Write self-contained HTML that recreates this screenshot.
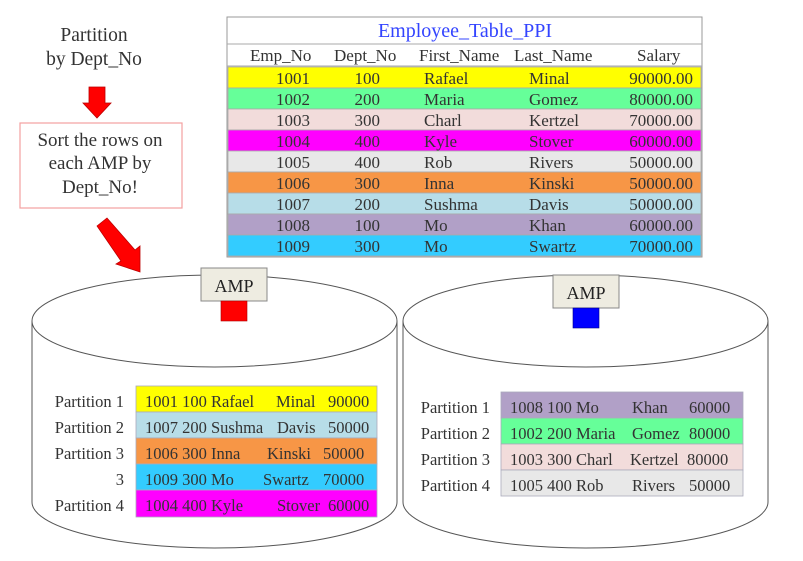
<!DOCTYPE html>
<html><head><meta charset="utf-8"><style>
html,body{margin:0;padding:0;background:#fff;}
svg{display:block;font-family:"Liberation Serif",serif;}
</style></head><body>
<svg width="803" height="561" viewBox="0 0 803 561" xmlns="http://www.w3.org/2000/svg">
<g font-size="19.5" fill="#333" text-anchor="middle">
<text x="94" y="41">Partition</text>
<text x="94" y="65">by Dept_No</text>
</g>
<g font-size="19" fill="#333" text-anchor="middle">
<text x="100" y="146">Sort the rows on</text>
<text x="100" y="169">each AMP by</text>
<text x="100" y="193">Dept_No!</text>
</g>
<polygon points="89,87 105,87 105,103 111,103 97,118 83,103 89,103" fill="#f00" stroke="#b00" stroke-width="0.8"/>
<rect x="20" y="123" width="162" height="85" fill="none" stroke="#f4a0a0" stroke-width="1.2"/>
<polygon points="97,226 107,218 135,250 140,246 140,272 116,264 121,261" fill="#f00" stroke="#b00" stroke-width="0.8"/>

<rect x="227" y="17" width="475" height="240" fill="#fff" stroke="#999" stroke-width="1"/>
<line x1="227" y1="44" x2="702" y2="44" stroke="#aaa"/>
<line x1="227" y1="66" x2="702" y2="66" stroke="#aaa"/>
<text x="465" y="37" font-size="20" fill="#3344ff" text-anchor="middle">Employee_Table_PPI</text>
<g font-size="17" fill="#333">
<text x="250" y="61">Emp_No</text>
<text x="334" y="61">Dept_No</text>
<text x="419" y="61">First_Name</text>
<text x="514" y="61">Last_Name</text>
<text x="637" y="61">Salary</text>
</g>
<g stroke="#aaa" stroke-width="0.8">
<rect x="228" y="67" width="473" height="21" fill="#ffff00"/>
<rect x="228" y="88" width="473" height="21" fill="#66ff99"/>
<rect x="228" y="109" width="473" height="21" fill="#f2dcdb"/>
<rect x="228" y="130" width="473" height="21" fill="#ff00ff"/>
<rect x="228" y="151" width="473" height="21" fill="#e8e8e8"/>
<rect x="228" y="172" width="473" height="21" fill="#f79646"/>
<rect x="228" y="193" width="473" height="21" fill="#b7dde8"/>
<rect x="228" y="214" width="473" height="21" fill="#b1a0c7"/>
<rect x="228" y="235" width="473" height="21" fill="#33ccff"/>
</g>
<g font-size="17" fill="#333">
<g text-anchor="end">
<text x="310" y="84">1001</text><text x="310" y="105">1002</text><text x="310" y="126">1003</text><text x="310" y="147">1004</text><text x="310" y="168">1005</text><text x="310" y="189">1006</text><text x="310" y="210">1007</text><text x="310" y="231">1008</text><text x="310" y="252">1009</text>
<text x="380" y="84">100</text><text x="380" y="105">200</text><text x="380" y="126">300</text><text x="380" y="147">400</text><text x="380" y="168">400</text><text x="380" y="189">300</text><text x="380" y="210">200</text><text x="380" y="231">100</text><text x="380" y="252">300</text>
<text x="693" y="84">90000.00</text><text x="693" y="105">80000.00</text><text x="693" y="126">70000.00</text><text x="693" y="147">60000.00</text><text x="693" y="168">50000.00</text><text x="693" y="189">50000.00</text><text x="693" y="210">50000.00</text><text x="693" y="231">60000.00</text><text x="693" y="252">70000.00</text>
</g>
<text x="424" y="84">Rafael</text><text x="424" y="105">Maria</text><text x="424" y="126">Charl</text><text x="424" y="147">Kyle</text><text x="424" y="168">Rob</text><text x="424" y="189">Inna</text><text x="424" y="210">Sushma</text><text x="424" y="231">Mo</text><text x="424" y="252">Mo</text>
<text x="529" y="84">Minal</text><text x="529" y="105">Gomez</text><text x="529" y="126">Kertzel</text><text x="529" y="147">Stover</text><text x="529" y="168">Rivers</text><text x="529" y="189">Kinski</text><text x="529" y="210">Davis</text><text x="529" y="231">Khan</text><text x="529" y="252">Swartz</text>
</g>

<g fill="#fff" stroke="#555" stroke-width="1">
<path d="M32,321 L32,502 A182.5,46 0 0 0 397,502 L397,321"/>
<ellipse cx="214.5" cy="321" rx="182.5" ry="46"/>
<path d="M403,321 L403,502 A182.5,46 0 0 0 768,502 L768,321"/>
<ellipse cx="585.5" cy="321" rx="182.5" ry="46"/>
</g>
<rect x="201" y="268" width="66" height="33" fill="#eeece1" stroke="#888"/>
<text x="234" y="292" font-size="18" fill="#222" text-anchor="middle">AMP</text>
<rect x="221" y="301" width="26" height="20" fill="#f00" stroke="#a00" stroke-width="0.6"/>
<rect x="553" y="275" width="66" height="33" fill="#eeece1" stroke="#888"/>
<text x="586" y="299" font-size="18" fill="#222" text-anchor="middle">AMP</text>
<rect x="573" y="308" width="26" height="20" fill="#00f" stroke="#008" stroke-width="0.6"/>

<g stroke="#aab" stroke-width="0.8">
<rect x="136" y="386" width="241" height="26" fill="#ffff00"/>
<rect x="136" y="412" width="241" height="26" fill="#b7dde8"/>
<rect x="136" y="438" width="241" height="26" fill="#f79646"/>
<rect x="136" y="464" width="241" height="26" fill="#33ccff"/>
<rect x="136" y="490" width="241" height="27" fill="#ff00ff"/>
<rect x="501" y="392" width="242" height="26" fill="#b1a0c7"/>
<rect x="501" y="418" width="242" height="26" fill="#66ff99"/>
<rect x="501" y="444" width="242" height="26" fill="#f2dcdb"/>
<rect x="501" y="470" width="242" height="26" fill="#e8e8e8"/>
</g>
<g font-size="16.5" fill="#333">
<g text-anchor="end">
<text x="124" y="407">Partition 1</text><text x="124" y="433">Partition 2</text><text x="124" y="459">Partition 3</text><text x="124" y="485">3</text><text x="124" y="511">Partition 4</text>
<text x="490" y="413">Partition 1</text><text x="490" y="439">Partition 2</text><text x="490" y="465">Partition 3</text><text x="490" y="491">Partition 4</text>
</g>
<text x="145" y="407">1001 100 Rafael</text><text x="276" y="407">Minal</text><text x="328" y="407">90000</text>
<text x="145" y="433">1007 200 Sushma</text><text x="277" y="433">Davis</text><text x="328" y="433">50000</text>
<text x="145" y="459">1006 300 Inna</text><text x="267" y="459">Kinski</text><text x="323" y="459">50000</text>
<text x="145" y="485">1009 300 Mo</text><text x="263" y="485">Swartz</text><text x="323" y="485">70000</text>
<text x="145" y="511">1004 400 Kyle</text><text x="277" y="511">Stover</text><text x="328" y="511">60000</text>
<text x="510" y="413">1008 100 Mo</text><text x="632" y="413">Khan</text><text x="689" y="413">60000</text>
<text x="510" y="439">1002 200 Maria</text><text x="632" y="439">Gomez</text><text x="689" y="439">80000</text>
<text x="510" y="465">1003 300 Charl</text><text x="630" y="465">Kertzel</text><text x="687" y="465">80000</text>
<text x="510" y="491">1005 400 Rob</text><text x="632" y="491">Rivers</text><text x="689" y="491">50000</text>
</g>
</svg>
</body></html>
